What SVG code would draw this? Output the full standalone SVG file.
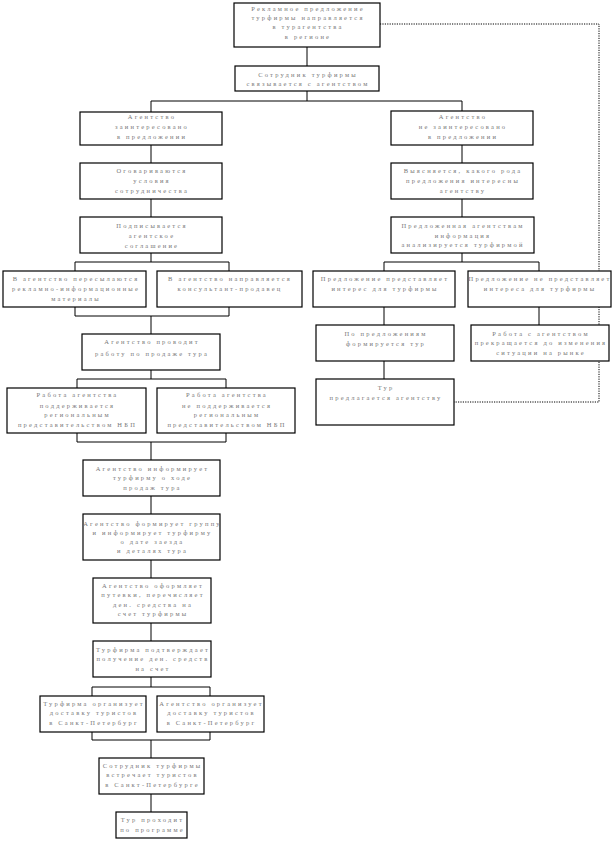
<svg xmlns="http://www.w3.org/2000/svg" width="613" height="841" viewBox="0 0 613 841">
<style>
.b{fill:#fff;stroke:#000;stroke-width:1.2}
.c line,.c polyline{stroke:#000;stroke-width:1;fill:none}
.c .d{stroke-dasharray:1.2 1.2}
text{font-family:"Liberation Serif",serif;font-size:6.5px;letter-spacing:2.2px;fill:#777;text-anchor:middle}
</style>
<rect width="613" height="841" fill="#fff"/>
<g class="c" id="connectors">
<polyline class="d" points="380,24 599,24 599,402 454,402"/>
<line x1="307" y1="47" x2="307" y2="66"/>
<line x1="307" y1="91" x2="307" y2="101"/>
<line x1="151" y1="101" x2="462" y2="101"/>
<line x1="151" y1="101" x2="151" y2="112"/>
<line x1="462" y1="101" x2="462" y2="111"/>
<line x1="151" y1="145" x2="151" y2="163"/>
<line x1="151" y1="199" x2="151" y2="217"/>
<line x1="151" y1="253" x2="151" y2="262"/>
<line x1="75" y1="262" x2="229" y2="262"/>
<line x1="75" y1="262" x2="75" y2="271"/>
<line x1="229" y1="262" x2="229" y2="271"/>
<line x1="75" y1="307" x2="75" y2="316"/>
<line x1="229" y1="307" x2="229" y2="316"/>
<line x1="75" y1="316" x2="229" y2="316"/>
<line x1="151" y1="316" x2="151" y2="334"/>
<line x1="151" y1="370" x2="151" y2="379"/>
<line x1="77" y1="379" x2="226" y2="379"/>
<line x1="77" y1="379" x2="77" y2="388"/>
<line x1="226" y1="379" x2="226" y2="388"/>
<line x1="77" y1="433" x2="77" y2="442"/>
<line x1="226" y1="433" x2="226" y2="442"/>
<line x1="77" y1="442" x2="226" y2="442"/>
<line x1="151" y1="442" x2="151" y2="460"/>
<line x1="151" y1="496" x2="151" y2="514"/>
<line x1="151" y1="560" x2="151" y2="578"/>
<line x1="151" y1="623" x2="151" y2="641"/>
<line x1="151" y1="677" x2="151" y2="687"/>
<line x1="92" y1="687" x2="210" y2="687"/>
<line x1="92" y1="687" x2="92" y2="696"/>
<line x1="210" y1="687" x2="210" y2="696"/>
<line x1="92" y1="732" x2="92" y2="740"/>
<line x1="210" y1="732" x2="210" y2="740"/>
<line x1="92" y1="740" x2="210" y2="740"/>
<line x1="151" y1="740" x2="151" y2="758"/>
<line x1="151" y1="794" x2="151" y2="812"/>
<line x1="462" y1="145" x2="462" y2="163"/>
<line x1="462" y1="199" x2="462" y2="217"/>
<line x1="462" y1="253" x2="462" y2="262"/>
<line x1="384" y1="262" x2="539" y2="262"/>
<line x1="384" y1="262" x2="384" y2="271"/>
<line x1="539" y1="262" x2="539" y2="271"/>
<line x1="384" y1="307" x2="384" y2="325"/>
<line x1="384" y1="361" x2="384" y2="379"/>
<line x1="539" y1="307" x2="539" y2="325"/>
</g>
<g id="n1"><rect class="b" x="234" y="3" width="146" height="44"/><text x="308" y="10.5">Рекламное предложение</text><text x="308" y="19.5">турфирмы направляется</text><text x="308" y="29">в турагентства</text><text x="308" y="38.5">в регионе</text></g>
<g id="n2"><rect class="b" x="235" y="66" width="144" height="25"/><text x="308" y="77">Сотрудник турфирмы</text><text x="308" y="86">связывается с агентством</text></g>
<g id="n3"><rect class="b" x="80" y="112" width="142" height="33"/><text x="152" y="119">Агентство</text><text x="152" y="129">заинтересовано</text><text x="152" y="139">в предложении</text></g>
<g id="n4"><rect class="b" x="391" y="111" width="142" height="34"/><text x="463" y="119">Агентство</text><text x="463" y="129">не заинтересовано</text><text x="463" y="139">в предложении</text></g>
<g id="n5"><rect class="b" x="80" y="163" width="142" height="36"/><text x="152" y="173">Оговариваются</text><text x="152" y="183">условия</text><text x="152" y="193">сотрудничества</text></g>
<g id="n6"><rect class="b" x="391" y="163" width="142" height="36"/><text x="463" y="173">Выясняется, какого рода</text><text x="463" y="183">предложения интересны</text><text x="463" y="193">агентству</text></g>
<g id="n7"><rect class="b" x="80" y="217" width="142" height="36"/><text x="152" y="228">Подписывается</text><text x="152" y="238">агентское</text><text x="152" y="247.5">соглашение</text></g>
<g id="n8"><rect class="b" x="391" y="217" width="143" height="36"/><text x="463" y="228">Предложенная агентствам</text><text x="463" y="237.5">информация</text><text x="463" y="247">анализируется турфирмой</text></g>
<g id="n9"><rect class="b" x="3" y="271" width="143" height="36"/><text x="76" y="281">В агентство пересылаются</text><text x="76" y="290.5">рекламно-информационные</text><text x="76" y="300.5">материалы</text></g>
<g id="n10"><rect class="b" x="157" y="271" width="145" height="36"/><text x="230" y="281">В агентство направляется</text><text x="230" y="290.5">консультант-продавец</text></g>
<g id="n11"><rect class="b" x="313" y="271" width="142" height="36"/><text x="385" y="281">Предложение представляет</text><text x="385" y="290.5">интерес для турфирмы</text></g>
<g id="n12"><rect class="b" x="468" y="271" width="143" height="36"/><text x="540" y="281">Предложение не представляет</text><text x="540" y="290.5">интереса для турфирмы</text></g>
<g id="n13"><rect class="b" x="316" y="325" width="138" height="36"/><text x="386" y="335.5">По предложениям</text><text x="386" y="345.5">формируется тур</text></g>
<g id="n14"><rect class="b" x="471" y="325" width="138" height="36"/><text x="541" y="335.5">Работа с агентством</text><text x="541" y="345">прекращается до изменения</text><text x="541" y="355">ситуации на рынке</text></g>
<g id="n15"><rect class="b" x="316" y="379" width="138" height="46"/><text x="386" y="389.5">Тур</text><text x="386" y="400">предлагается агентству</text></g>
<g id="n16"><rect class="b" x="82" y="334" width="138" height="36"/><text x="152" y="344">Агентство проводит</text><text x="152" y="355.5">работу по продаже тура</text></g>
<g id="n17"><rect class="b" x="7" y="388" width="139" height="45"/><text x="77.5" y="397">Работа агентства</text><text x="77.5" y="407.5">поддерживается</text><text x="77.5" y="417">региональным</text><text x="77.5" y="427">представительством НБП</text></g>
<g id="n18"><rect class="b" x="157" y="388" width="138" height="45"/><text x="227" y="397">Работа агентства</text><text x="227" y="407.5">не поддерживается</text><text x="227" y="417">региональным</text><text x="227" y="427">представительством НБП</text></g>
<g id="n19"><rect class="b" x="83" y="460" width="137" height="36"/><text x="152.5" y="470.5">Агентство информирует</text><text x="152.5" y="480">турфирму о ходе</text><text x="152.5" y="490">продаж тура</text></g>
<g id="n20"><rect class="b" x="83" y="514" width="137" height="46"/><text x="152.5" y="525.5">Агентство формирует группу</text><text x="152.5" y="534.5">и информирует турфирму</text><text x="152.5" y="544">о дате заезда</text><text x="152.5" y="553">и деталях тура</text></g>
<g id="n21"><rect class="b" x="93" y="578" width="118" height="45"/><text x="153" y="588">Агентство оформляет</text><text x="153" y="597">путевки, перечисляет</text><text x="153" y="606.5">ден. средства на</text><text x="153" y="616">счет турфирмы</text></g>
<g id="n22"><rect class="b" x="93" y="641" width="118" height="36"/><text x="153" y="652">Турфирма подтверждает</text><text x="153" y="661">получение ден. средств</text><text x="153" y="671">на счет</text></g>
<g id="n23"><rect class="b" x="40" y="696" width="106" height="36"/><text x="94" y="705.5">Турфирма организует</text><text x="94" y="715">доставку туристов</text><text x="94" y="725">в Санкт-Петербург</text></g>
<g id="n24"><rect class="b" x="157" y="696" width="107" height="36"/><text x="211.5" y="705.5">Агентство организует</text><text x="211.5" y="715">доставку туристов</text><text x="211.5" y="725">в Санкт-Петербург</text></g>
<g id="n25"><rect class="b" x="99" y="758" width="105" height="36"/><text x="152.5" y="768">Сотрудник турфирмы</text><text x="152.5" y="777">встречает туристов</text><text x="152.5" y="786.5">в Санкт-Петербурге</text></g>
<g id="n26"><rect class="b" x="116" y="812" width="71" height="26"/><text x="152.5" y="822">Тур проходит</text><text x="152.5" y="832">по программе</text></g>
</svg>
